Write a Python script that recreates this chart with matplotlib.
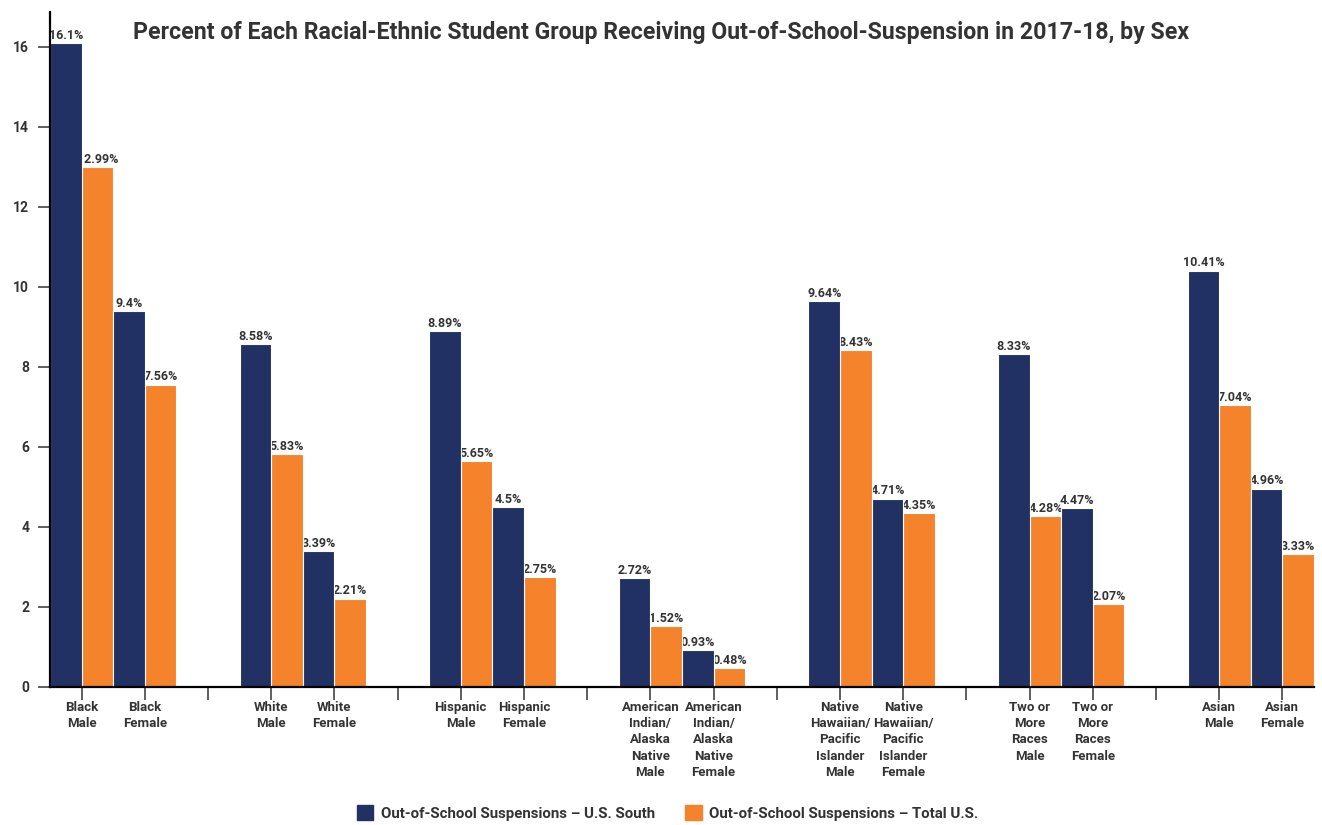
import numpy as np
import matplotlib
matplotlib.use("Agg")
import matplotlib.pyplot as plt
from matplotlib.patches import Patch

# data
categories = ["Black\nMale", "Black\nFemale",
              "White\nMale", "White\nFemale",
              "Hispanic\nMale", "Hispanic\nFemale",
              "American\nIndian/\nAlaska\nNative\nMale", "American\nIndian/\nAlaska\nNative\nFemale",
              "Native\nHawaiian/\nPacific\nIslander\nMale", "Native\nHawaiian/\nPacific\nIslander\nFemale",
              "Two or\nMore\nRaces\nMale", "Two or\nMore\nRaces\nFemale",
              "Asian\nMale", "Asian\nFemale"]
south = [16.1, 9.4, 8.58, 3.39, 8.89, 4.5, 2.72, 0.93, 9.64, 4.71, 8.33, 4.47, 10.41, 4.96]
total = [12.99, 7.56, 5.83, 2.21, 5.65, 2.75, 1.52, 0.48, 8.43, 4.35, 4.28, 2.07, 7.04, 3.33]
series_names = ["Out-of-School Suspensions \u2013 U.S. South",
                "Out-of-School Suspensions \u2013 Total U.S."]
yticks = [0, 2, 4, 6, 8, 10, 12, 14, 16]

NAVY = "#223163"
ORANGE = "#F5832B"
TXT = "#333333"

plt.rcParams['font.family'] = ['Roboto', 'DejaVu Sans']

fig = plt.figure(figsize=(13.22, 8.25), dpi=100)
ax = fig.add_axes([50 / 1322, 1 - 687 / 825, 1264 / 1322, 675 / 825])

# each pair of categories takes 3 slots, the third is an empty separator
pos = np.array([3 * (i // 2) + (i % 2) for i in range(len(categories))], dtype=float)
w = 0.5
ax.bar(pos - w / 2, south, width=w, color=NAVY, edgecolor="white", linewidth=0.8, zorder=2)
ax.bar(pos + w / 2, total, width=w, color=ORANGE, edgecolor="white", linewidth=0.8, zorder=1)

for x, v in zip(pos, south):
    ax.text(x - w / 2, v + 0.03, f"{v:g}%", ha="center", va="bottom",
            fontsize=9, fontweight="bold", color=TXT, zorder=0)
for x, v in zip(pos, total):
    ax.text(x + w / 2, v + 0.03, f"{v:g}%", ha="center", va="bottom",
            fontsize=9, fontweight="bold", color=TXT, zorder=0)

ax.set_xlim(-0.5, 19.5)
ax.set_ylim(0, 16.875)

sep = [3 * g + 2 for g in range(6)]
ax.set_xticks(list(pos) + sep)
ax.set_xticklabels(categories + [""] * len(sep))
ax.tick_params(axis="x", length=9, width=1.2, color="#444444", pad=1,
               labelsize=9.5, labelcolor=TXT)
for lab in ax.get_xticklabels():
    lab.set_fontweight("semibold")
    lab.set_linespacing(1.33)

ax.set_yticks(yticks)
ax.set_yticklabels([str(t) for t in yticks])
ax.tick_params(axis="y", length=9, width=1.2, color="#444444", pad=6,
               labelsize=10, labelcolor=TXT)
for lab in ax.get_yticklabels():
    lab.set_fontweight("bold")

for s in ["top", "right"]:
    ax.spines[s].set_visible(False)
ax.spines["left"].set_linewidth(1.6)
ax.spines["bottom"].set_linewidth(1.6)

fig.text(0.5, 1 - 33 / 825,
         "Percent of Each Racial-Ethnic Student Group Receiving Out-of-School-Suspension in 2017-18, by Sex",
         ha="center", va="center", fontsize=16.7, fontweight="bold", color=TXT)

handles = [Patch(color=NAVY), Patch(color=ORANGE)]
leg = fig.legend(handles, series_names, loc="center", bbox_to_anchor=(0.505, 1 - 813 / 825),
                 ncol=2, frameon=False, handlelength=1.1, handleheight=1.1,
                 columnspacing=2.0, handletextpad=0.5,
                 prop={"size": 10.8, "weight": "semibold"})
for t in leg.get_texts():
    t.set_color(TXT)

fig.savefig("out.png", dpi=100)
